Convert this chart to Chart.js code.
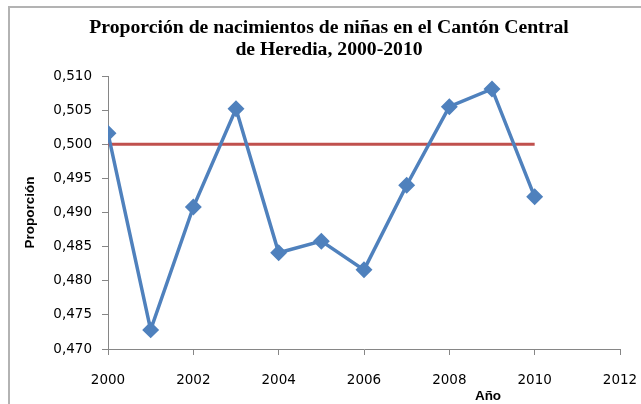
<!DOCTYPE html>
<html>
<head>
<meta charset="utf-8">
<script src="https://cdn.jsdelivr.net/npm/chart.js@4"></script>
<style>
  html, body { margin: 0; padding: 0; background: #fff; }
  #wrap { width: 641px; height: 404px; }
</style>
</head>
<body>
<div id="wrap"><canvas id="grafico"></canvas></div>
<script>
// años y proporción de nacimientos de niñas
const anios = [2000, 2001, 2002, 2003, 2004, 2005, 2006, 2007, 2008, 2009, 2010];
const proporcion = [0.5016, 0.4728, 0.4908, 0.5052, 0.4841, 0.4858, 0.4816, 0.4940, 0.5055, 0.5081, 0.4923];
// línea de referencia al 0,5
const refAnios = [2000, 2010];
const refValor = [0.5, 0.5];

const tickX = [2000, 2002, 2004, 2006, 2008, 2010, 2012];
const tickY = [0.470, 0.475, 0.480, 0.485, 0.490, 0.495, 0.500, 0.505, 0.510];

const titulo = ['Proporción de nacimientos de niñas en el Cantón Central', 'de Heredia, 2000-2010'];

const azul = '#4F81BD';
const rojo = '#C0504D';
const gris = '#868686';
const fuenteEjes = '"DejaVu Sans", sans-serif';

// marco gris, título centrado sobre todo el cuadro y título del eje x
const marco = {
    id: 'marco',
    beforeDraw(chart){
        const ctx = chart.ctx;
        ctx.save();
        ctx.strokeStyle = '#b3b3b3';
        ctx.lineWidth = 2;
        ctx.strokeRect(9, 7, 700, 500);
        ctx.restore();
    },
    afterDraw(chart){
        const ctx = chart.ctx;
        ctx.save();
        ctx.fillStyle = '#000';
        ctx.textAlign = 'center';
        ctx.textBaseline = 'middle';
        ctx.font = 'bold 19.7px "Liberation Serif", "Times New Roman", serif';
        titulo.forEach((linea, i) => ctx.fillText(linea, 329, 28 + i * 22));
        ctx.font = 'bold 13.5px "Liberation Sans", Arial, sans-serif';
        ctx.fillText('Año', 488, 396);
        ctx.restore();
    }
};

const ctx = document.querySelector('#grafico').getContext('2d');

new Chart(ctx, {
    type: 'scatter',
    data:{
        datasets:[
        {
            label: 'Proporción',
            data: anios.map((a, i) => ({x: a, y: proporcion[i]})),
            showLine: true,
            borderColor: azul,
            backgroundColor: azul,
            borderWidth: 3.5,
            pointStyle: 'rectRot',
            pointRadius: 6,
            pointHoverRadius: 6,
            tension: 0
        },
        {
            label: 'Referencia',
            data: refAnios.map((a, i) => ({x: a, y: refValor[i]})),
            showLine: true,
            borderColor: rojo,
            backgroundColor: rojo,
            borderWidth: 3,
            pointRadius: 0,
            tension: 0
        }
        ]
    },
    options:{
        responsive: true,
        maintainAspectRatio: false,
        animation: false,
        layout: {
            padding: {left: 10, right: 21, top: 76, bottom: 0}
        },
        plugins:{
            legend: { display: false },
            tooltip: { enabled: false },
            title: { display: false }
        },
        scales:{
            x:{
                type: 'linear',
                min: 2000,
                max: 2012,
                afterFit: s => { s.height = 55; s.paddingLeft = 0; s.paddingRight = 0; },
                afterBuildTicks: s => { s.ticks = tickX.map(v => ({value: v})); },
                grid: { drawOnChartArea: false, tickLength: 6, color: gris },
                border: { color: gris, width: 1 },
                ticks: {
                    padding: 17,
                    color: '#000',
                    font: { family: fuenteEjes, size: 13.5 },
                    callback: v => String(v)
                }
            },
            y:{
                min: 0.470,
                max: 0.510,
                afterFit: s => { s.width = 98; s.paddingTop = 0; s.paddingBottom = 0; },
                afterBuildTicks: s => { s.ticks = tickY.map(v => ({value: v})); },
                grid: { drawOnChartArea: false, tickLength: 6, color: gris },
                border: { color: gris, width: 1 },
                title: {
                    display: true,
                    text: 'Proporción',
                    color: '#000',
                    font: { family: '"Liberation Sans", Arial, sans-serif', size: 13.5, weight: 'bold' },
                    padding: {top: 12, bottom: 4}
                },
                ticks: {
                    padding: 10,
                    color: '#000',
                    font: { family: fuenteEjes, size: 13.5 },
                    callback: v => v.toFixed(3).replace('.', ',')
                }
            }
        }
    },
    plugins: [marco]
});
</script>
</body>
</html>
